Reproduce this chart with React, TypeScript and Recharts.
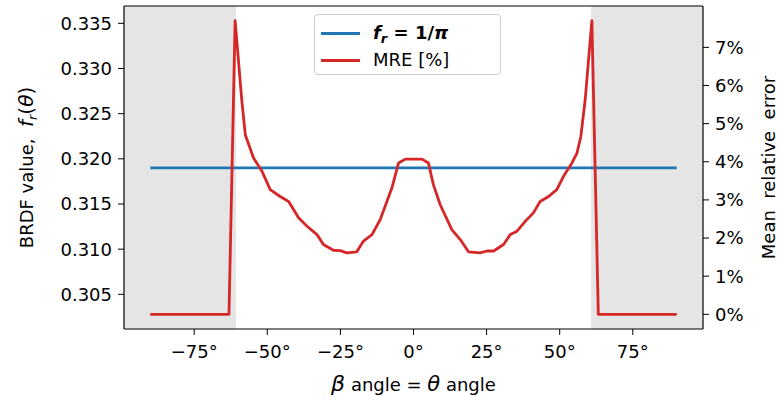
import React from 'react';
import {
  ComposedChart,
  Line,
  XAxis,
  YAxis,
  ReferenceArea,
  ReferenceLine,
  Legend,
} from 'recharts';

// Angles (degrees) at which the mean relative error was sampled
const mreAngles = [
  -90, -63.1, -61, -58.7, -57.5, -54.7, -51.8, -49.0, -45.6, -42.7,
  -39.3, -36.4, -33.0, -30.8, -27.4, -25.1, -22.8, -19.4, -17.1, -14.2,
  -11.4, -7.4, -5.1, -2.8, 2.9, 5.1, 6.8, 9.1, 13.1, 16.0,
  18.8, 22.8, 25.1, 27.4, 30.8, 33.1, 35.4, 38.2, 41.0, 43.3,
  46.2, 49.0, 51.3, 54.2, 55.9, 57.2, 58.7, 61.0, 63.2, 90,
];
// Mean relative error in percent
const mreValues = [
  0, 0, 7.7, 5.6, 4.7, 4.1, 3.75, 3.27, 3.09, 2.96,
  2.53, 2.31, 2.09, 1.83, 1.68, 1.67, 1.61, 1.64, 1.92, 2.09,
  2.48, 3.31, 3.97, 4.07, 4.07, 3.97, 3.4, 2.88, 2.22, 1.96,
  1.64, 1.61, 1.66, 1.66, 1.83, 2.09, 2.18, 2.44, 2.66, 2.96,
  3.09, 3.27, 3.62, 3.97, 4.23, 4.65, 5.62, 7.7, 0, 0,
];

// Lambertian reference BRDF
const frAngles = [-90, 90];
const frValues = [0.319, 0.319];

// Grazing-angle ranges that are shaded
const shadedRanges: [number, number][] = [
  [-99, -60.7],
  [60.7, 99],
];

const xTicks = [-75, -50, -25, 0, 25, 50, 75];
const leftTicks = [0.305, 0.31, 0.315, 0.32, 0.325, 0.33, 0.335];
const rightTicks = [0, 1, 2, 3, 4, 5, 6, 7];

const xDomain: [number, number] = [-99, 99];
const leftDomain: [number, number] = [0.30116, 0.33692];
const rightDomain: [number, number] = [-0.385, 8.085];

const legendOrder = ['fr', 'mre'];

const mreData = mreAngles.map((a, i) => ({ angle: a, mre: mreValues[i] }));
const frData = frAngles.map((a, i) => ({ angle: a, fr: frValues[i] }));

const FONT = "'DejaVu Sans', sans-serif";
const BLUE = '#1f77b4';
const RED = '#d62728';
const tickStyle = { fontFamily: FONT, fontSize: 18, fill: '#000' };

const fmtDeg = (v: number) => `${v < 0 ? '\u2212' : ''}${Math.abs(v)}°`;

const LeftLabel = (props: any) => {
  const vb = props.viewBox || {};
  const cy = vb.y + vb.height / 2;
  const x = 33;
  return (
    <text
      x={x}
      y={cy}
      transform={`rotate(-90, ${x}, ${cy})`}
      textAnchor="middle"
      fontFamily={FONT}
      fontSize={18}
      fill="#000"
      style={{ whiteSpace: 'pre' }}
    >
      <tspan>{'BRDF value,  '}</tspan>
      <tspan fontStyle="italic" fontSize={20}>f</tspan>
      <tspan fontStyle="italic" fontSize={13} dy={4}>r</tspan>
      <tspan dy={-4} fontSize={20}>(</tspan>
      <tspan fontStyle="italic" fontSize={20}>θ</tspan>
      <tspan fontSize={20}>)</tspan>
    </text>
  );
};

const RightLabel = (props: any) => {
  const vb = props.viewBox || {};
  const cy = vb.y + vb.height / 2;
  const x = 775;
  return (
    <text
      x={x}
      y={cy}
      transform={`rotate(-90, ${x}, ${cy})`}
      textAnchor="middle"
      fontFamily={FONT}
      fontSize={18}
      fill="#000"
      style={{ whiteSpace: 'pre' }}
    >
      Mean  relative  error
    </text>
  );
};

const BottomLabel = (props: any) => {
  const vb = props.viewBox || {};
  const cx = vb.x + vb.width / 2;
  return (
    <text
      x={cx}
      y={391}
      textAnchor="middle"
      fontFamily={FONT}
      fontSize={18}
      fill="#000"
      style={{ whiteSpace: 'pre' }}
    >
      <tspan fontStyle="italic" fontSize={22}>β</tspan>
      <tspan>{' angle = '}</tspan>
      <tspan fontStyle="italic" fontSize={21}>θ</tspan>
      <tspan>{' angle'}</tspan>
    </text>
  );
};

const legendLabel = (key: string) => {
  if (key === 'fr') {
    return (
      <span style={{ fontWeight: 'bold' }}>
        <i>f</i>
        <i style={{ fontSize: 13, position: 'relative', top: 4 }}>r</i>
        <span>{' = 1/'}</span>
        <i>π</i>
      </span>
    );
  }
  return <span>MRE [%]</span>;
};

const LegendBox = (props: any) => {
  const payload = [...(props.payload || [])].sort(
    (a: any, b: any) => legendOrder.indexOf(a.dataKey) - legendOrder.indexOf(b.dataKey)
  );
  return (
    <div
      style={{
        width: 187,
        height: 61,
        boxSizing: 'border-box',
        border: '1px solid #cccccc',
        borderRadius: 4,
        background: 'rgba(255,255,255,0.8)',
        fontFamily: FONT,
        fontSize: 18,
        color: '#000',
        position: 'relative',
      }}
    >
      {payload.map((p: any, i: number) => (
        <div
          key={p.dataKey}
          style={{
            position: 'absolute',
            left: 0,
            top: 18 + i * 26.6 - 13,
            height: 26,
            width: '100%',
          }}
        >
          <div
            style={{
              position: 'absolute',
              left: 6,
              top: 12,
              width: 39,
              height: 3,
              background: p.color,
            }}
          />
          <div
            style={{
              position: 'absolute',
              left: 58,
              top: 0,
              lineHeight: '26px',
              whiteSpace: 'pre',
            }}
          >
            {legendLabel(p.dataKey)}
          </div>
        </div>
      ))}
    </div>
  );
};

export default function App() {
  return (
    <div style={{ position: 'absolute', left: 0, top: 0, width: 779, height: 406, background: '#fff' }}>
      <ComposedChart
        width={779}
        height={406}
        margin={{ top: 6, right: 0, bottom: 0, left: 0 }}
      >
        <XAxis
          xAxisId="x"
          type="number"
          dataKey="angle"
          domain={xDomain}
          ticks={xTicks}
          allowDataOverflow
          tickFormatter={fmtDeg}
          tick={tickStyle}
          tickSize={6}
          tickMargin={10}
          height={77}
          stroke="#000"
          tickLine={{ stroke: '#000' }}
          axisLine={{ stroke: '#000', strokeWidth: 1.2 }}
          label={<BottomLabel />}
        />
        <YAxis
          yAxisId="left"
          orientation="left"
          type="number"
          domain={leftDomain}
          ticks={leftTicks}
          allowDataOverflow
          tickFormatter={(v: number) => v.toFixed(3)}
          tick={tickStyle}
          tickSize={6}
          tickMargin={6}
          width={124}
          stroke="#000"
          axisLine={{ stroke: '#000', strokeWidth: 1.2 }}
          label={<LeftLabel />}
        />
        <YAxis
          yAxisId="right"
          orientation="right"
          type="number"
          domain={rightDomain}
          ticks={rightTicks}
          allowDataOverflow
          tickFormatter={(v: number) => `${v}%`}
          tick={tickStyle}
          tickSize={6}
          tickMargin={6}
          width={76}
          stroke="#000"
          axisLine={{ stroke: '#000', strokeWidth: 1.2 }}
          label={<RightLabel />}
        />
        {shadedRanges.map(([a, b], i) => (
          <ReferenceArea
            key={i}
            xAxisId="x"
            yAxisId="left"
            x1={a}
            x2={b}
            y1={leftDomain[0]}
            y2={leftDomain[1]}
            fill="#e5e5e5"
            fillOpacity={1}
            stroke="none"
            ifOverflow="visible"
          />
        ))}
        <ReferenceLine
          xAxisId="x"
          yAxisId="left"
          y={leftDomain[1]}
          stroke="#000"
          strokeWidth={1.2}
          ifOverflow="visible"
        />
        <Line
          xAxisId="x"
          yAxisId="left"
          data={frData}
          dataKey="fr"
          name="fr"
          type="linear"
          stroke={BLUE}
          strokeWidth={2.8}
          dot={false}
          activeDot={false}
          isAnimationActive={false}
        />
        <Line
          xAxisId="x"
          yAxisId="right"
          data={mreData}
          dataKey="mre"
          name="MRE [%]"
          type="linear"
          stroke={RED}
          strokeWidth={2.8}
          strokeLinejoin="round"
          dot={false}
          activeDot={false}
          isAnimationActive={false}
        />
        <Legend
          layout="horizontal"
          verticalAlign="middle"
          align="center"
          content={<LegendBox />}
          wrapperStyle={{ left: 314, top: 14, width: 187, height: 61 }}
        />
      </ComposedChart>
    </div>
  );
}
